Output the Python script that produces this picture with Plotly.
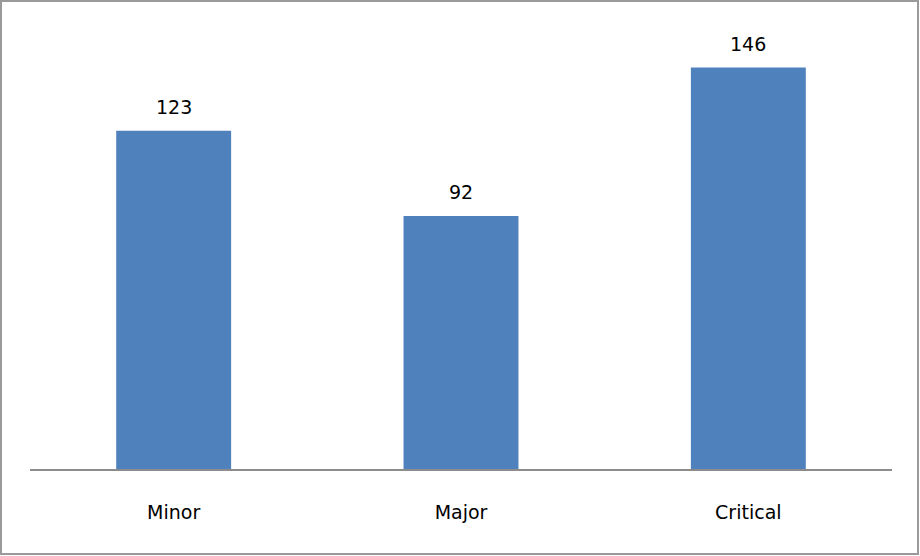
import plotly.graph_objects as go

categories = ["Minor", "Major", "Critical"]
values = [123, 92, 146]

W, H = 920, 556
L, R, T, B = 30, 28, 29, 87
pw, ph = W - L - R, H - T - B
FONT = "DejaVu Sans, sans-serif"

fig = go.Figure(go.Bar(
    x=categories, y=values,
    marker=dict(color="#4F81BD", line=dict(width=0)),
    hoverinfo="skip",
))

for c, v in zip(categories, values):
    fig.add_annotation(x=c, y=v, text=str(v), showarrow=False, yshift=24,
                       font=dict(family=FONT, size=19, color="#000000"))

def px_x(p):
    return (p - L) / pw

def px_y(p):
    return (H - B - p) / ph

fig.add_shape(type="rect", xref="paper", yref="paper",
              x0=px_x(1), x1=px_x(918), y0=px_y(554), y1=px_y(1),
              line=dict(color="#9a9a9a", width=2), fillcolor="rgba(0,0,0,0)")

fig.update_layout(
    width=W, height=H,
    margin=dict(l=L, r=R, t=T, b=B),
    paper_bgcolor="white", plot_bgcolor="white",
    bargap=0.6,
    showlegend=False,
    font=dict(family=FONT, size=19, color="#000000"),
    xaxis=dict(showline=True, linecolor="#8c8c8c", linewidth=2, ticks="",
               showgrid=False, ticklabelstandoff=25, zeroline=False),
    yaxis=dict(range=[0, 160], visible=False, showgrid=False, zeroline=False),
)

fig.write_html("out.html")
